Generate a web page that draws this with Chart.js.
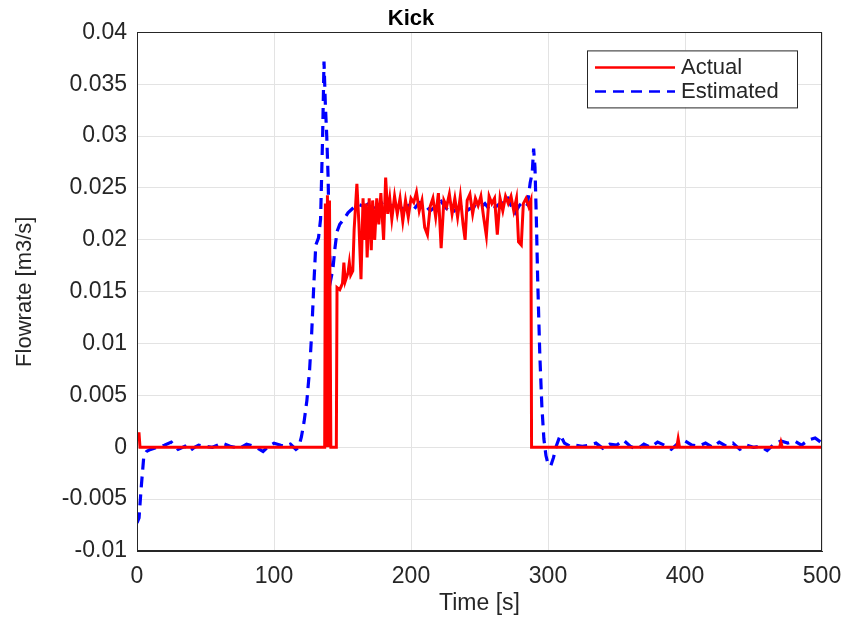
<!DOCTYPE html>
<html>
<head>
<meta charset="utf-8">
<script src="https://cdn.jsdelivr.net/npm/chart.js@4"></script>
<style>
  html, body { margin: 0; padding: 0; background: #fff; }
  #wrap { width: 848px; height: 617px; }
</style>
</head>
<body>
<div id="wrap"><canvas id="myChart" width="848" height="617"></canvas></div>
<script>
// values
var actualT = [0, 1.5, 2.2, 137, 137.5, 138.3, 139, 139.8, 140.5, 141.5, 145.5, 146, 148, 150, 151, 152, 154, 155, 156, 157.5,
  158.5, 160.5, 162, 163.5, 165, 166, 167, 168, 169.5, 171, 172, 173.5, 175, 176.5, 178, 180, 181.5, 183, 184.5, 186,
  188, 190, 192, 194, 196, 198, 200, 202, 204, 206, 208, 210, 212, 214, 216, 218, 220, 222, 224, 226,
  228, 230, 232, 234, 236, 238, 239.5, 241, 243, 245, 247, 249, 251, 253, 255, 257, 259, 261, 263, 265,
  267, 269, 271, 273, 275, 277, 278.5, 280.5, 282, 284, 286, 287.5, 288, 394, 395, 396, 469, 470, 471, 500];
var actualQ = [0.0013, 0.0013, 0, 0, 0.0235, 0, 0.0243, 0, 0.0238, 0, 0, 0.0154, 0.0152, 0.0158, 0.0178, 0.0160, 0.0168, 0.0178, 0.0166, 0.0170,
  0.0210, 0.0254, 0.0215, 0.0162, 0.0240, 0.0200, 0.0235, 0.0183, 0.0240, 0.0190, 0.0238, 0.0200, 0.0240, 0.0215, 0.0245, 0.0200, 0.0260, 0.0225, 0.0240, 0.0220,
  0.0242, 0.0225, 0.0240, 0.0218, 0.0238, 0.0222, 0.0240, 0.0236, 0.0246, 0.0228, 0.0238, 0.0212, 0.0205, 0.0232, 0.0240, 0.0222, 0.0245, 0.0192, 0.0238, 0.0232,
  0.0244, 0.0225, 0.0240, 0.0222, 0.0242, 0.0215, 0.0200, 0.0238, 0.0244, 0.0225, 0.0240, 0.0233, 0.0242, 0.0222, 0.0204, 0.0242, 0.0235, 0.0240, 0.0205, 0.0240,
  0.0228, 0.0242, 0.0235, 0.0242, 0.0228, 0.0240, 0.0198, 0.0195, 0.0235, 0.0240, 0.0232, 0.0238, 0, 0, 0.0008, 0, 0, 0.0005, 0, 0];

var estT = [0, 1.5, 3, 5, 7, 10, 15, 20, 25, 30, 35, 38, 42, 45, 50, 55, 62, 68, 75, 80,
  85, 88, 92, 96, 100, 105, 108, 112, 116, 118, 120, 122, 124, 126, 127.5, 129, 130.5, 132.5, 134, 135.5,
  136.5, 137.5, 138.5, 139.5, 140.5, 141.5, 143, 144.5, 146, 148, 151, 154, 158, 162, 166, 170, 174, 178, 182, 186,
  190, 194, 198, 202, 206, 210, 214, 218, 222, 226, 230, 234, 238, 242, 246, 250, 254, 258, 262, 266,
  270, 273, 276, 279, 282, 285, 287, 288.5, 289.5, 290.5, 291.5, 292.5, 294, 295.5, 297, 298.5, 300, 302, 304, 306,
  309, 312, 316, 320, 325, 330, 335, 340, 345, 350, 355, 360, 365, 370, 375, 380, 385, 390, 395, 400,
  405, 410, 415, 420, 425, 430, 435, 440, 445, 450, 455, 460, 465, 470, 475, 480, 485, 490, 495, 500];
var estQ = [-0.0073, -0.0068, -0.004, -0.0008, -0.0004, -0.0002, 0, 0.0002, 0.0005, -0.0002, 0.0001, -0.0004, 0, 0.0002, 0.0001, 0, 0.0004, 0.0001, -0.0001, 0.0003,
  0.0001, -0.0001, -0.0004, 0.0001, 0.0004, 0.0002, 0.0001, 0.0003, -0.0002, 0, 0.001, 0.0025, 0.0045, 0.0075, 0.011, 0.0155, 0.0195, 0.0202, 0.022, 0.030,
  0.0372, 0.033, 0.030, 0.026, 0.019, 0.0162, 0.0172, 0.0192, 0.0208, 0.0215, 0.022, 0.0226, 0.0231, 0.0234, 0.0232, 0.0236, 0.0231, 0.0235, 0.0238, 0.0232,
  0.0236, 0.0229, 0.0233, 0.0229, 0.0236, 0.0234, 0.0228, 0.0232, 0.0237, 0.0230, 0.0226, 0.0231, 0.0234, 0.0229, 0.0233, 0.0230, 0.0235, 0.0228, 0.0232, 0.0236,
  0.0242, 0.0233, 0.0226, 0.0233, 0.0237, 0.0234, 0.0255, 0.0265, 0.0288, 0.0270, 0.022, 0.016, 0.009, 0.004, 0.0008, -0.0008, -0.0016, -0.0018, -0.001, 0.0001,
  0.0012, 0.0004, 0.0001, 0.0002, 0.0001, 0.0002, 0.0004, -0.0001, 0.0003, 0.0002, 0.0007, 0.0001, -0.0002, 0.0003, 0, 0.0005, 0.0002, -0.0002, 0.0004, 0.0006,
  0.0002, 0.0001, 0.0004, 0, 0.0005, 0.0001, 0.0004, -0.0002, 0.0002, 0, 0.0001, -0.0003, 0.0003, 0.0006, 0.0004, 0.0006, 0.0002, 0.0007, 0.0009, 0.0004];

var xTicks = [0, 100, 200, 300, 400, 500];
var yMin = -0.01, yMax = 0.04, yStep = 0.005;

function pairs(xs, ys) {
    return xs.map(function (x, i) { return { x: x, y: ys[i] }; });
}

var textColor = '#262626';
var fontFamily = '"Liberation Sans", Arial, sans-serif';

// axes box + legend, drawn like the matlab figure
var boxPlugin = {
    id: 'boxAndLegend',
    afterDatasetsDraw: function (chart) {
        var ctx = chart.ctx;
        var a = chart.chartArea;
        ctx.save();
        ctx.strokeStyle = textColor;
        ctx.lineWidth = 1;
        ctx.strokeRect(Math.round(a.left) + 0.5, Math.round(a.top) + 0.5,
            Math.round(a.right - a.left) - 1, Math.round(a.bottom - a.top) - 1);

        // legend
        var w = 210, h = 57;
        var lx = a.right - 25 - w, ly = a.top + 18;
        ctx.fillStyle = '#fff';
        ctx.fillRect(lx, ly, w, h);
        ctx.strokeStyle = textColor;
        ctx.strokeRect(lx + 0.5, ly + 0.5, w, h);
        ctx.font = '22px ' + fontFamily;
        ctx.textBaseline = 'middle';
        chart.data.datasets.forEach(function (ds, i) {
            var y = ly + 17 + i * 24;
            ctx.beginPath();
            ctx.strokeStyle = ds.borderColor;
            ctx.lineWidth = 2.5;
            ctx.setLineDash(ds.borderDash || []);
            ctx.moveTo(lx + 8, y);
            ctx.lineTo(lx + 88, y);
            ctx.stroke();
            ctx.setLineDash([]);
            ctx.fillStyle = textColor;
            ctx.fillText(ds.label, lx + 94, y + 1);
        });
        ctx.restore();
    }
};

var ctx = document.getElementById('myChart').getContext('2d');
var chart = new Chart(ctx, {
    type: 'line',
    data: {
        datasets: [{
            label: 'Actual',
            borderColor: 'rgb(255, 0, 0)',
            borderWidth: 3,
            data: pairs(actualT, actualQ)
        }, {
            label: 'Estimated',
            borderColor: 'rgb(0, 0, 255)',
            borderWidth: 3.2,
            borderDash: [11, 7],
            data: pairs(estT, estQ)
        }]
    },
    options: {
        responsive: false,
        animation: false,
        layout: { padding: { left: 0, right: 26, top: 0, bottom: 0 } },
        elements: { point: { radius: 0 }, line: { tension: 0 } },
        plugins: {
            legend: { display: false },
            tooltip: { enabled: false },
            title: {
                display: true,
                text: 'Kick',
                color: '#000',
                font: { family: fontFamily, size: 22, weight: 'bold' },
                padding: { top: 6, bottom: 0 }
            }
        },
        scales: {
            x: {
                type: 'linear',
                min: 0, max: 500,
                afterBuildTicks: function (scale) {
                    scale.ticks = xTicks.map(function (v) { return { value: v }; });
                },
                afterFit: function (scale) {
                    scale.height = 66;
                    scale.paddingLeft = 0;
                    scale.paddingRight = 0;
                },
                grid: { color: '#e3e3e3', drawTicks: false },
                border: { color: textColor },
                ticks: {
                    color: textColor, padding: 12, maxRotation: 0,
                    font: { family: fontFamily, size: 23 }
                },
                title: {
                    display: true, text: 'Time [s]', color: textColor,
                    font: { family: fontFamily, size: 23 },
                    padding: { top: 0, bottom: 0 }
                }
            },
            y: {
                min: yMin, max: yMax,
                afterFit: function (scale) { scale.width = 137; },
                grid: { color: '#e3e3e3', drawTicks: false },
                border: { color: textColor },
                ticks: {
                    stepSize: yStep, color: textColor, padding: 10,
                    font: { family: fontFamily, size: 23 },
                    callback: function (v) { return String(+v.toFixed(3)); }
                },
                title: {
                    display: true, text: 'Flowrate [m3/s]', color: textColor,
                    font: { family: fontFamily, size: 22 },
                    padding: { top: 12, bottom: 0 }
                }
            }
        }
    },
    plugins: [boxPlugin]
});
</script>
</body>
</html>
